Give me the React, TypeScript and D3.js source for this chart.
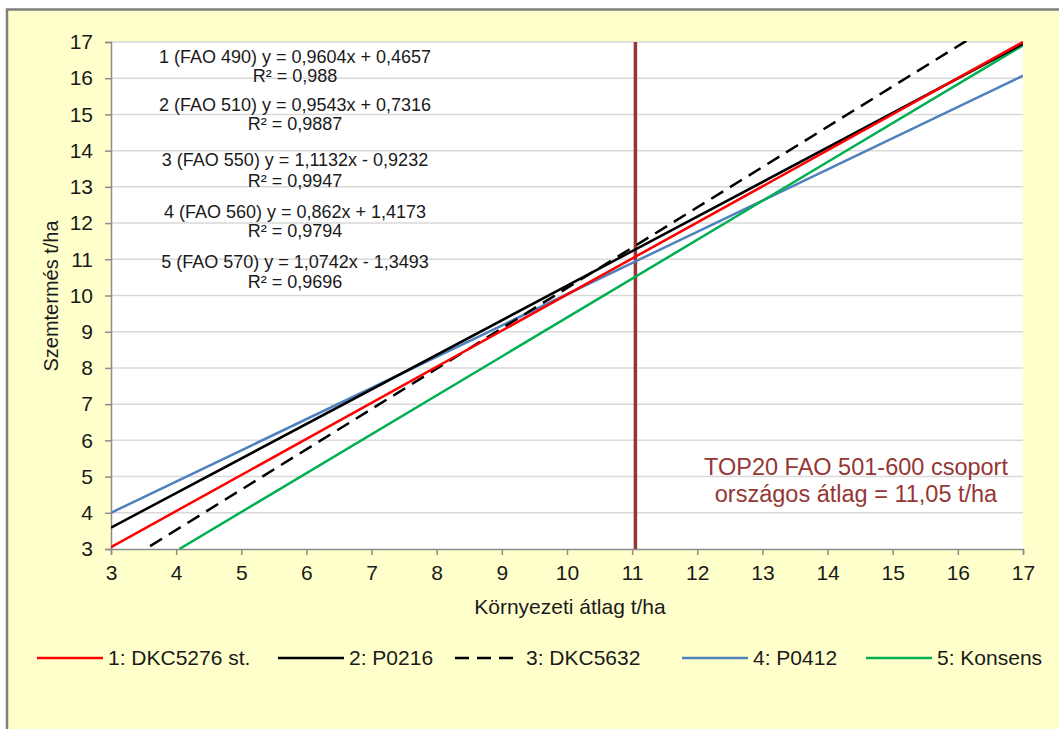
import React, { useEffect, useRef } from "react";
import * as d3 from "d3";

// ---- data ----
const seriesNames = ["1: DKC5276 st.", "2: P0216", "3: DKC5632", "4: P0412", "5: Konsens"];
const seriesColors = ["#ff0000", "#000000", "#000000", "#4f81bd", "#00b050"];
const seriesDash = [null, null, "14,8", null, null];
// endpoints [x, y] of each fitted line
const line1 = [[3, 3.05], [17, 17.0]];
const line2 = [[3, 3.59], [17, 16.95]];
const line3 = [[3.6, 3.08], [16.2, 17.11]];
const line4 = [[3, 4.0], [17, 16.07]];
const line5 = [[4.05, 3.0], [17, 16.91]];
const seriesData = [line1, line2, line3, line4, line5];

const eqLabels = [
  "1 (FAO 490) y = 0,9604x + 0,4657",
  "2 (FAO 510) y = 0,9543x + 0,7316",
  "3 (FAO 550) y = 1,1132x - 0,9232",
  "4 (FAO 560) y = 0,862x + 1,4173",
  "5 (FAO 570) y = 1,0742x - 1,3493",
];
const r2Labels = ["R² = 0,988", "R² = 0,9887", "R² = 0,9947", "R² = 0,9794", "R² = 0,9696"];

const xTicks = [3, 4, 5, 6, 7, 8, 9, 10, 11, 12, 13, 14, 15, 16, 17];
const yTicks = [3, 4, 5, 6, 7, 8, 9, 10, 11, 12, 13, 14, 15, 16, 17];
const avgValue = 11.05;
const avgLabel1 = "TOP20 FAO 501-600 csoport";
const avgLabel2 = "országos átlag = 11,05 t/ha";
const xTitle = "Környezeti átlag  t/ha";
const yTitle = "Szemtermés t/ha";

const W = 1059;
const H = 729;
const FONT = "'Liberation Sans', Arial, sans-serif";

export default function App() {
  const ref = useRef<SVGSVGElement | null>(null);

  useEffect(() => {
    const svg = d3.select(ref.current);
    svg.selectAll("*").remove();

    const left = 111, right = 1023, top = 42, bottom = 549;
    const x = d3.scaleLinear().domain([3, 17]).range([left, right]);
    const y = d3.scaleLinear().domain([3, 17]).range([bottom, top]);

    // background + border
    svg.append("rect").attr("x", 0).attr("y", 0).attr("width", W).attr("height", H).attr("fill", "#ffffff");
    svg.append("rect").attr("x", 7).attr("y", 9.5).attr("width", W + 20).attr("height", H + 20)
      .attr("fill", "#ffffcc").attr("stroke", "#7f7f7f").attr("stroke-width", 2.5);

    // plot area
    svg.append("rect").attr("x", left).attr("y", top).attr("width", right - left).attr("height", bottom - top).attr("fill", "#ffffff");

    // gridlines
    svg.append("g").selectAll("line").data(yTicks.filter((d) => d !== 3)).join("line")
      .attr("x1", left).attr("x2", right)
      .attr("y1", (d) => y(d)).attr("y2", (d) => y(d))
      .attr("stroke", "#d9d9d9").attr("stroke-width", 1.5);

    // axes
    const yAxis = svg.append("g").attr("transform", `translate(${left},0)`)
      .call(d3.axisLeft(y).tickValues(yTicks).tickSize(6).tickPadding(12).tickFormat(d3.format("d")));
    const xAxis = svg.append("g").attr("transform", `translate(0,${bottom})`)
      .call(d3.axisBottom(x).tickValues(xTicks).tickSize(6).tickPadding(10).tickFormat(d3.format("d")));
    [yAxis, xAxis].forEach((g) => {
      g.select(".domain").attr("stroke", "#8c8c8c").attr("stroke-width", 1.5);
      g.selectAll(".tick line").attr("stroke", "#8c8c8c").attr("stroke-width", 1.5);
      g.selectAll(".tick text").attr("fill", "#1a1a1a").style("font-family", FONT).style("font-size", "21px");
    });

    // clip
    svg.append("clipPath").attr("id", "plotclip").append("rect")
      .attr("x", left).attr("y", top - 1).attr("width", right - left).attr("height", bottom - top + 1);

    // vertical average line
    svg.append("line").attr("x1", x(avgValue)).attr("x2", x(avgValue)).attr("y1", top).attr("y2", bottom)
      .attr("stroke", "#943634").attr("stroke-width", 3.5);

    // series
    const lineGen = d3.line<number[]>().x((d) => x(d[0])).y((d) => y(d[1]));
    const lg = svg.append("g").attr("clip-path", "url(#plotclip)");
    [3, 4, 2, 1, 0].forEach((i) => {
      lg.append("path").attr("d", lineGen(seriesData[i] as number[][]) as string)
        .attr("fill", "none").attr("stroke", seriesColors[i]).attr("stroke-width", 2.5)
        .attr("stroke-dasharray", seriesDash[i] ?? null);
    });

    // equations
    const eqX = 295;
    const eqY = [57, 105, 160, 212, 262];
    const r2Y = [76, 124, 181, 231, 282];
    eqLabels.forEach((t, i) => {
      svg.append("text").attr("x", eqX).attr("y", eqY[i]).attr("dy", "0.35em").attr("text-anchor", "middle")
        .style("font-family", FONT).style("font-size", "18px").attr("fill", "#1a1a1a").text(t);
      svg.append("text").attr("x", eqX).attr("y", r2Y[i]).attr("dy", "0.35em").attr("text-anchor", "middle")
        .style("font-family", FONT).style("font-size", "18px").attr("fill", "#1a1a1a").text(r2Labels[i]);
    });

    // average annotation
    [avgLabel1, avgLabel2].forEach((t, i) => {
      svg.append("text").attr("x", 856).attr("y", 467 + i * 27).attr("dy", "0.35em").attr("text-anchor", "middle")
        .style("font-family", FONT).style("font-size", "23.5px").attr("fill", "#953735").text(t);
    });

    // axis titles
    svg.append("text").attr("x", 570).attr("y", 607).attr("dy", "0.35em").attr("text-anchor", "middle")
      .style("font-family", FONT).style("font-size", "21px").attr("fill", "#1a1a1a").text(xTitle);
    svg.append("text").attr("transform", `translate(51,296) rotate(-90)`)
      .attr("dy", "0.35em").attr("text-anchor", "middle")
      .style("font-family", FONT).style("font-size", "20px").attr("fill", "#1a1a1a").text(yTitle);

    // legend
    const legX = [37, 278, 455, 682, 866];
    const legY = 658;
    seriesNames.forEach((n, i) => {
      svg.append("line").attr("x1", legX[i]).attr("x2", legX[i] + 66).attr("y1", legY).attr("y2", legY)
        .attr("stroke", seriesColors[i]).attr("stroke-width", 2.5)
        .attr("stroke-dasharray", seriesDash[i] ?? null);
      svg.append("text").attr("x", legX[i] + 71).attr("y", legY).attr("dy", "0.35em")
        .style("font-family", FONT).style("font-size", "21px").attr("fill", "#1a1a1a").text(n);
    });
  }, []);

  return (
    <svg ref={ref} width={W} height={H} style={{ position: "absolute", left: 0, top: 0, display: "block" }} />
  );
}
